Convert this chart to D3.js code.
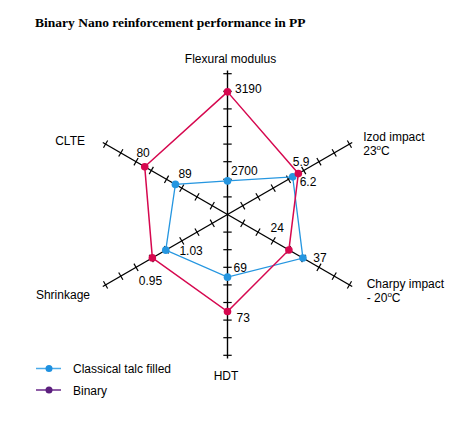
<html>
<head>
<meta charset="utf-8">
<title>Binary Nano reinforcement performance in PP</title>
<script src="https://cdnjs.cloudflare.com/ajax/libs/d3/7.8.5/d3.min.js"></script>
<style>
  body { margin: 0; background: #fff; }
  svg { display: block; font-family: Arial, "Liberation Sans", sans-serif; }
  .title { font-family: "Times New Roman", "Liberation Serif", serif; font-weight: bold; font-size: 13.5px; }
  .lbl { font-size: 12px; fill: #000; }
</style>
</head>
<body>
<svg width="476" height="426"></svg>
<script>
// axes, clockwise from the top
const axes = ['Flexural modulus', 'Izod impact', 'Charpy impact', 'HDT', 'Shrinkage', 'CLTE'];
const angles = [-90, -30, 30, 90, 150, 210];
// value at the centre and value at the last (8th) tick of every axis
const axisStart = [2515, 9.67, -32.9, 61.7, 1.398, 104.3];
const axisEnd = [3290, 3.18, 80.1, 78.1, 0.671, 68.5];

const seriesNames = ['Classical talc filled', 'Binary'];
const classical = [2700, 6.2, 37, 69, 1.03, 89];
const binary = [3190, 5.9, 24, 73, 0.95, 80];
const classicalLabels = ['2700', '6.2', '37', '69', '1.03', '89'];
const binaryLabels = ['3190', '5.9', '24', '73', '0.95', '80'];

const cx = 227.5, cy = 214.5;
const tickStep = 17.6, nTicks = 8, axisLen = 144;

const svg = d3.select('svg');

const dir = angles.map(a => [Math.cos(a * Math.PI / 180), Math.sin(a * Math.PI / 180)]);
const scales = axes.map((a, i) => d3.scaleLinear()
  .domain([axisStart[i], axisEnd[i]])
  .range([0, nTicks * tickStep]));

function pt(i, r) {
  return [cx + dir[i][0] * r, cy + dir[i][1] * r];
}

svg.append('text').attr('class', 'title')
  .attr('x', 35).attr('y', 27)
  .text('Binary Nano reinforcement performance in PP');

// axes + ticks
const axG = svg.append('g');
axes.forEach((a, i) => {
  const e = pt(i, axisLen);
  axG.append('line')
    .attr('x1', cx).attr('y1', cy).attr('x2', e[0]).attr('y2', e[1])
    .attr('stroke', '#000').attr('stroke-width', 1.4);
  const nx = -dir[i][1], ny = dir[i][0];
  d3.range(1, nTicks + 1).forEach(k => {
    const p = pt(i, k * tickStep);
    axG.append('line')
      .attr('x1', p[0] - nx * 4.2).attr('y1', p[1] - ny * 4.2)
      .attr('x2', p[0] + nx * 4.2).attr('y2', p[1] + ny * 4.2)
      .attr('stroke', '#000').attr('stroke-width', 1.2);
  });
});

// axis titles: [dx, dy, anchor] from the end of each axis
const titlePos = [[3, -7.5, 'middle'], [11, -1.5, 'start'], [14.5, 1.5, 'start'],
                  [-1.5, 21.5, 'middle'], [-12.8, 12.5, 'end'], [-17.8, 2.5, 'end']];
const sub = { 'Izod impact': ['23', 'C'], 'Charpy impact': ['- 20', 'C'] };
axes.forEach((a, i) => {
  const e = pt(i, axisLen);
  const x = e[0] + titlePos[i][0], y = e[1] + titlePos[i][1];
  svg.append('text').attr('class', 'lbl')
    .attr('x', x).attr('y', y).attr('text-anchor', titlePos[i][2]).text(a);
  if (sub[a]) {
    const t = svg.append('text').attr('class', 'lbl').attr('x', x).attr('y', y + 14);
    t.append('tspan').text(sub[a][0]);
    t.append('tspan').attr('font-size', 8).attr('dy', -5).text('o');
    t.append('tspan').attr('dy', 5).text(sub[a][1]);
  }
});

const colors = ['#2596e0', '#d6084f'];
const series = [classical, binary];
const line = d3.line().curve(d3.curveLinearClosed);

series.forEach((vals, s) => {
  const pts = vals.map((v, i) => pt(i, scales[i](v)));
  svg.append('path')
    .attr('d', line(pts))
    .attr('fill', 'none')
    .attr('stroke', colors[s])
    .attr('stroke-width', s === 1 ? 1.5 : 1.3);
});
series.forEach((vals, s) => {
  svg.append('g').selectAll('circle')
    .data(vals)
    .join('circle')
    .attr('cx', (v, i) => pt(i, scales[i](v))[0])
    .attr('cy', (v, i) => pt(i, scales[i](v))[1])
    .attr('r', 3.8)
    .attr('fill', colors[s]);
});

// value labels: [dx, dy, anchor] from the point
const classicalOff = [[3.5, -5.7, 'start'], [7, 9.3, 'start'], [10.4, 4, 'start'],
                      [6, -5.6, 'start'], [13.6, 5, 'start'], [3, -6, 'start']];
const binaryOff = [[7.5, 1.6, 'start'], [-5.6, -7.3, 'start'], [-18.3, -17.7, 'start'],
                   [9, 10, 'start'], [-1.9, 26.7, 'middle'], [-8.3, -9.4, 'start']];
[[classical, classicalLabels, classicalOff], [binary, binaryLabels, binaryOff]].forEach(([vals, labs, off]) => {
  vals.forEach((v, i) => {
    const p = pt(i, scales[i](v));
    svg.append('text').attr('class', 'lbl')
      .attr('x', p[0] + off[i][0]).attr('y', p[1] + off[i][1])
      .attr('text-anchor', off[i][2])
      .text(labs[i]);
  });
});

// legend
const legLine = ['#4aaae8', '#6a2a8a'];
const legDot = ['#1e90e0', '#5c1f7e'];
seriesNames.forEach((n, s) => {
  const y = 368.5 + s * 21.5;
  svg.append('line').attr('x1', 36).attr('x2', 61).attr('y1', y).attr('y2', y)
    .attr('stroke', legLine[s]).attr('stroke-width', 1.5);
  svg.append('circle').attr('cx', 49).attr('cy', y).attr('r', 3.5).attr('fill', legDot[s]);
  svg.append('text').attr('class', 'lbl').attr('x', 73).attr('y', y + 4.5).text(n);
});
</script>
</body>
</html>
